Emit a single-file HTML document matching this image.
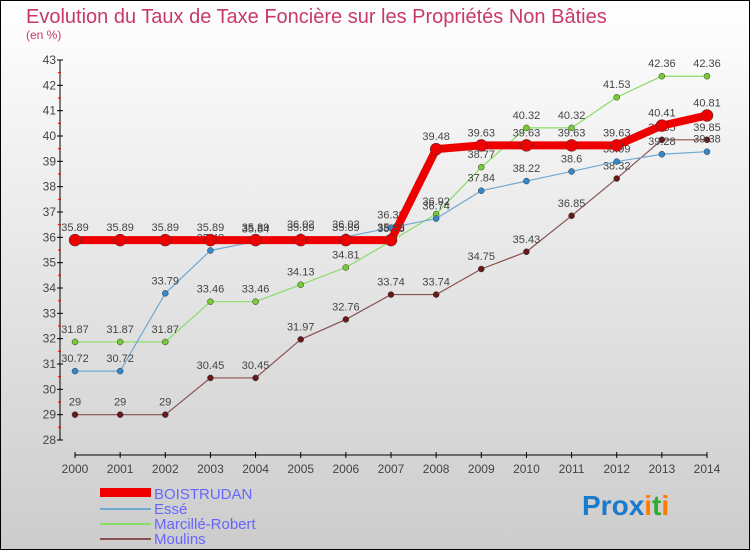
<!DOCTYPE html>
<html><head><meta charset="utf-8"><style>
body{margin:0;width:750px;height:550px;overflow:hidden}
svg{display:block;font-family:"Liberation Sans",sans-serif}
</style></head><body>
<svg width="750" height="550">
<defs><linearGradient id="bg" x1="0" y1="0" x2="0" y2="1"><stop offset="0" stop-color="#ffffff"/><stop offset="1" stop-color="#cccccc"/></linearGradient></defs>
<rect x="0.5" y="0.5" width="749" height="549" fill="url(#bg)" stroke="#000"/>
<text x="26" y="23" font-size="20" fill="#c8386a">Evolution du Taux de Taxe Foncière sur les Propriétés Non Bâties</text>
<text x="26" y="39" font-size="12" fill="#c8386a">(en %)</text>
<g id="axes"></g>
<g id="series"></g>
<g>
<rect x="100" y="488" width="51" height="9" fill="#ee0000"/>
<text x="154" y="499" font-size="15" fill="#6666ff">BOISTRUDAN</text>
<rect x="100" y="508" width="51" height="2" fill="#6fa8d0"/>
<text x="154" y="514" font-size="15" fill="#6666ff">Essé</text>
<rect x="100" y="523" width="51" height="2" fill="#88dd66"/>
<text x="154" y="529" font-size="15" fill="#6666ff">Marcillé-Robert</text>
<rect x="100" y="538" width="51" height="2" fill="#8a5050"/>
<text x="154" y="544" font-size="15" fill="#6666ff">Moulins</text>
</g>
<g font-size="28" font-weight="bold">
<text x="582" y="515"><tspan fill="#1a7acc">Pro</tspan><tspan fill="#1a7acc">x</tspan><tspan fill="#ff7a00">i</tspan><tspan fill="#33aa33">t</tspan><tspan fill="#ff7a00">i</tspan></text>
</g>
</svg>
<script>
const years=[2000,2001,2002,2003,2004,2005,2006,2007,2008,2009,2010,2011,2012,2013,2014];
const yTicks=[28,29,30,31,32,33,34,35,36,37,38,39,40,41,42,43];
const boistrudan=[35.89,35.89,35.89,35.89,35.89,35.89,35.89,35.89,39.48,39.63,39.63,39.63,39.63,40.41,40.81];
const esse=[30.72,30.72,33.79,35.48,35.84,36.02,36.02,36.38,36.74,37.84,38.22,38.6,38.99,39.28,39.38];
const marcille=[31.87,31.87,31.87,33.46,33.46,34.13,34.81,35.85,36.92,38.77,40.32,40.32,41.53,42.36,42.36];
const moulins=[29,29,29,30.45,30.45,31.97,32.76,33.74,33.74,34.75,35.43,36.85,38.32,39.85,39.85];
const NS="http://www.w3.org/2000/svg";
const xS=i=>75+i*(707-75)/(years.length-1);
const yS=v=>60+(43-v)*(380/15);
function mk(p,t,a){const e=document.createElementNS(NS,t);for(const k in a)e.setAttribute(k,a[k]);p.appendChild(e);return e;}
const ax=document.getElementById('axes');
mk(ax,'line',{x1:60,y1:60,x2:60,y2:440,stroke:'#000'});
mk(ax,'line',{x1:75,y1:455,x2:707,y2:455,stroke:'#000'});
yTicks.forEach(v=>{const y=yS(v);
 mk(ax,'line',{x1:57,y1:y,x2:63,y2:y,stroke:'#000'});
 if(v<43)mk(ax,'line',{x1:58,y1:yS(v+0.5),x2:61,y2:yS(v+0.5),stroke:'#e00'});
 const t=mk(ax,'text',{x:56,y:y+4,'font-size':12,fill:'#444','text-anchor':'end'});t.textContent=v;
 
 });
years.forEach((yr,i)=>{const x=xS(i);
 mk(ax,'line',{x1:x,y1:452,x2:x,y2:458,stroke:'#000'});
 const t=mk(ax,'text',{x:x,y:473,'font-size':12,fill:'#444','text-anchor':'middle'});t.textContent=yr;
 
 });
const sg=document.getElementById('series');
function draw(data,color,w,r,dot,name){
 const g=mk(sg,'g',{});
 
 
 mk(g,'polyline',{points:data.map((v,i)=>xS(i)+','+yS(v)).join(' '),fill:'none',stroke:color,'stroke-width':w,'stroke-linejoin':'round'});
 data.forEach((v,i)=>{const c=mk(g,'circle',{cx:xS(i),cy:yS(v),r:r,fill:dot,stroke:'#333','stroke-width':0.5});
  
  
  const t=mk(g,'text',{x:xS(i),y:yS(v)-9,'font-size':11,fill:'#444','text-anchor':'middle'});t.textContent=v;
  
  });
}
draw(moulins,'#8a5050',1.2,3,'#661a1a','moulins');
draw(marcille,'#88dd66',1.2,3,'#77cc33','marcille-robert');
draw(esse,'#6fa8d0',1.2,3,'#3388cc','esse');
draw(boistrudan,'#ee0000',8,6,'#ee0000','boistrudan');
</script>
</body></html>
